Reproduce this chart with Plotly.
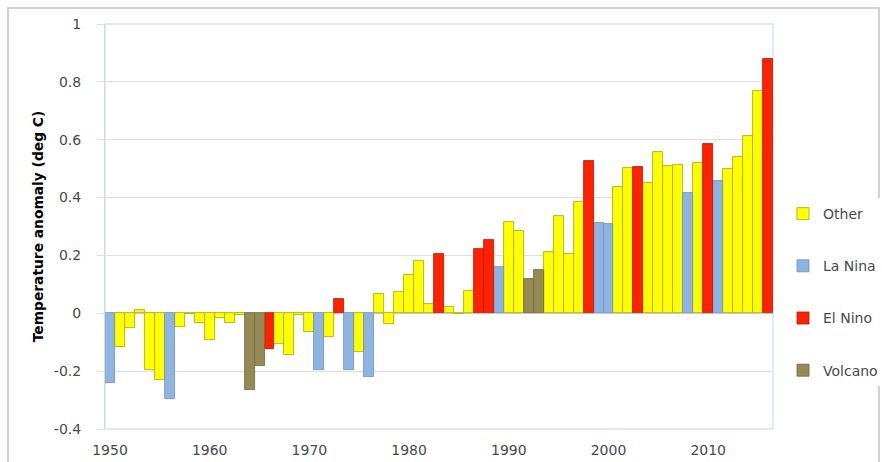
import plotly.graph_objects as go

years = list(range(1950, 2017))
anomaly = [
    -0.24, -0.118, -0.052, 0.013, -0.197, -0.232, -0.295, -0.048, -0.003, -0.035,
    -0.093, -0.017, -0.032, -0.005, -0.266, -0.183, -0.122, -0.105, -0.145, -0.005,
    -0.063, -0.195, -0.083, 0.051, -0.197, -0.134, -0.22, 0.066, -0.036, 0.073,
    0.134, 0.181, 0.031, 0.204, 0.022, -0.003, 0.077, 0.223, 0.253, 0.16,
    0.314, 0.285, 0.12, 0.149, 0.211, 0.336, 0.206, 0.385, 0.526, 0.312,
    0.307, 0.437, 0.503, 0.506, 0.452, 0.556, 0.509, 0.511, 0.416, 0.52,
    0.584, 0.458, 0.499, 0.539, 0.612, 0.769, 0.879,
]
# O = Other, L = La Nina, E = El Nino, V = Volcano
category = list(
    "LOOOOOLOOOOOOOVVEOOOOLOELOLOOOOOOEOOOEELOOVVOOOOELLOOEOOOOLOELOOOOE"
)
series_names = ["Other", "La Nina", "El Nino", "Volcano"]
series_codes = ["O", "L", "E", "V"]
fill_colors = ["#FFFF00", "#8DB4E2", "#FF2200", "#948A54"]
edge_colors = ["#A6A600", "#6F8FB5", "#B01800", "#6E6640"]
y_ticks = [-0.4, -0.2, 0, 0.2, 0.4, 0.6, 0.8, 1]
y_tick_text = ["-0.4", "-0.2", "0", "0.2", "0.4", "0.6", "0.8", "1"]
x_ticks = [1950, 1960, 1970, 1980, 1990, 2000, 2010]

fig = go.Figure()
for name, code, fc, ec in zip(series_names, series_codes, fill_colors, edge_colors):
    ys = [v if c == code else None for v, c in zip(anomaly, category)]
    fig.add_trace(go.Bar(
        x=years, y=ys, name=name, legendgroup=name,
        marker=dict(color=fc, line=dict(color=ec, width=0.8)),
    ))

font_family = "DejaVu Sans, sans-serif"
label_color = "#4A4A4A"
fig.update_layout(
    width=882, height=462,
    margin=dict(l=105, r=109, t=24, b=33),
    paper_bgcolor="white", plot_bgcolor="white",
    barmode="overlay", bargap=0,
    font=dict(family=font_family, size=14, color=label_color),
    legend=dict(
        xref="container", yref="container",
        x=783 / 882, y=1 - 198 / 462, xanchor="left", yanchor="top",
        tracegroupgap=31, font=dict(size=14, color=label_color),
        itemwidth=30, traceorder="grouped",
    ),
    showlegend=True,
)
fig.update_xaxes(
    range=[1949.5, 2016.5], tickvals=x_ticks, ticktext=[str(t) for t in x_ticks],
    showgrid=False, zeroline=False, showline=False, ticks="",
    ticklabelstandoff=11, automargin=False,
    tickfont=dict(size=14, color=label_color),
)
fig.update_yaxes(
    range=[-0.4, 1.0], tickvals=y_ticks, ticktext=y_tick_text,
    showgrid=True, gridcolor="#E0E0E0", gridwidth=1,
    zeroline=True, zerolinecolor="#D0D0D0", zerolinewidth=1,
    showline=True, linecolor="#D9D9D9", linewidth=1,
    ticks="outside", ticklen=7, tickcolor="#E0E0E0",
    ticklabelstandoff=13, automargin=False,
    tickfont=dict(size=14, color=label_color),
    title=dict(text="Temperature anomaly (deg C)", standoff=7,
               font=dict(size=13.8, color="#000000", family=font_family, weight="bold")),
)
# plot area border (light blue)
fig.add_shape(type="rect", xref="paper", yref="paper", x0=0, x1=1, y0=0, y1=1,
              line=dict(color="#C6D5EA", width=1), layer="below")
# outer chart border
fig.add_shape(type="rect", xref="paper", yref="paper",
              x0=(8 - 105) / 668, x1=(879 - 105) / 668,
              y0=-0.2, y1=(429 - 8) / 405,
              line=dict(color="#C4C4C4", width=1.5), layer="below")
fig.write_html("out.html", config={"displayModeBar": False},
               post_script="document.body.style.margin='0px';")
